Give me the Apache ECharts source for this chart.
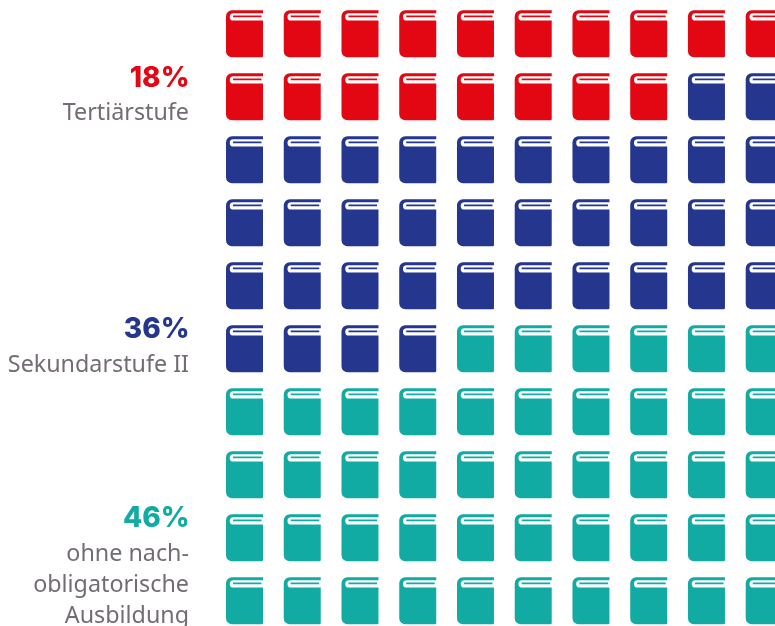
<!DOCTYPE html>
<html><head><meta charset="utf-8">
<style>html,body{margin:0;padding:0;background:#fff}#c{width:775px;height:626px}</style>
<script src="https://cdn.jsdelivr.net/npm/echarts@6/dist/echarts.min.js"></script></head>
<body><div id="c"></div>
<script>
const shares = [18, 36, 46];
const shareLabels = ['18%', '36%', '46%'];
const groupNames = ['Tertiärstufe', 'Sekundarstufe II', 'ohne nach-\nobligatorische\nAusbildung'];
const colors = ['#e30613', '#25368e', '#12aba3'];
const columns = 10;
const rows = 10;
const BOOK = 'path://M6 0H37V3H7.4A3.65 3.65 0 0 0 7.4 10.3H37V45.8Q37 47 35.8 47H6A6 6 0 0 1 0 41V6A6 6 0 0 1 6 0ZM7 5.3H35.5V7H7Z';

let n = 0;
const series = shares.map((s, k) => {
  const data = [];
  for (let i = 0; i < s; i++, n++) data.push([n % columns, Math.floor(n / columns)]);
  return {type: 'scatter', name: groupNames[k], data, symbol: BOOK, symbolSize: [37, 47],
    clip: false, silent: true, animation: false, itemStyle: {color: colors[k], opacity: 1}};
});
const pctY = [78.5, 329.5, 519];
const nameY = [113, 365, 554];
const graphic = [];
shares.forEach((s, k) => {
  graphic.push({type: 'text', x: 189.5, y: pctY[k], style: {text: shareLabels[k], x: 0, y: 0, align: 'right', verticalAlign: 'middle',
    fill: colors[k], font: '800 28px Inter'}});
  groupNames[k].split('\n').forEach((line, j) => {
    graphic.push({type: 'text', x: 189, y: nameY[k] + j * 31, style: {text: line, x: 0, y: 0, align: 'right', verticalAlign: 'middle',
      fill: '#746c74', font: '400 23.3px "Noto Sans"'}});
  });
});
const chart = echarts.init(document.getElementById('c'), null, {renderer: 'canvas'});
chart.setOption({
  animation: false,
  backgroundColor: '#fff',
  grid: {left: 244.5, top: 33.8, width: 519.7, height: 567},
  xAxis: {type: 'value', min: 0, max: columns - 1, show: false},
  yAxis: {type: 'value', min: 0, max: rows - 1, inverse: true, show: false},
  tooltip: {show: false},
  series,
  graphic
});
</script></body></html>
